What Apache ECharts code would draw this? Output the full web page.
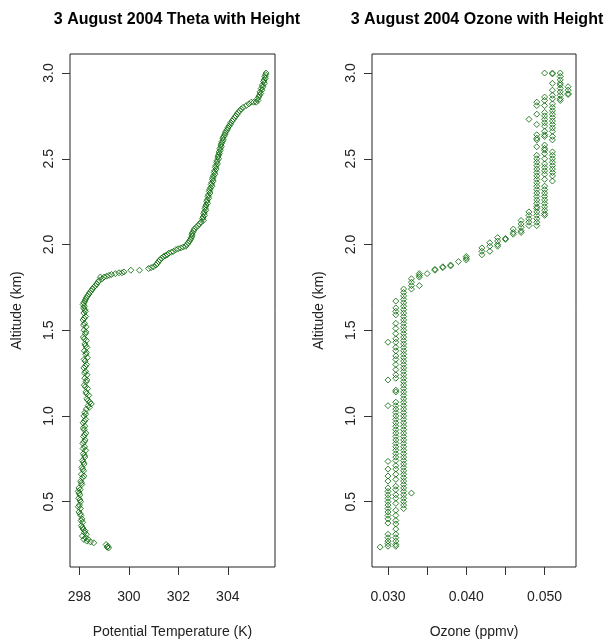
<!DOCTYPE html>
<html>
<head>
<meta charset="utf-8">
<script src="https://cdn.jsdelivr.net/npm/echarts@6/dist/echarts.min.js"></script>
<style>
html,body{margin:0;padding:0;background:#fff;}
#chart{width:609px;height:641px;}
</style>
</head>
<body>
<div id="chart"></div>
<script>
// ---- Data ----
const titles = ['3 August 2004 Theta with Height', '3 August 2004 Ozone with Height'];
const xNames = ['Potential Temperature (K)', 'Ozone (ppmv)'];
const yName = 'Altitude (km)';

const altTicks = [0.5, 1.0, 1.5, 2.0, 2.5, 3.0];
const thetaTicks = [298, 300, 302, 304];
const ozoneTicks = [0.030, 0.035, 0.040, 0.045, 0.050];
const ozoneLabels = [0.030, 0.040, 0.050];

// [potential temperature (K), altitude (km)]
const thetaObs = [
 [305.55,3.00],[305.53,2.99],[305.50,2.98],[305.52,2.97],[305.47,2.96],[305.45,2.95],[305.48,2.94],[305.40,2.93],
 [305.42,2.92],[305.35,2.91],[305.38,2.90],[305.30,2.89],[305.33,2.88],[305.28,2.87],[305.25,2.86],[305.20,2.85],
 [305.22,2.84],[305.15,2.83],[305.05,2.83],[304.95,2.83],[304.85,2.82],[304.75,2.81],[304.62,2.80],[304.55,2.79],
 [304.48,2.78],[304.42,2.77],[304.38,2.76],[304.32,2.75],[304.28,2.74],[304.22,2.73],[304.18,2.72],[304.12,2.71],
 [304.10,2.70],[304.05,2.69],[304.00,2.68],[303.98,2.67],[303.93,2.66],[303.90,2.65],[303.88,2.64],[303.84,2.63],
 [303.80,2.62],[303.82,2.61],[303.77,2.60],[303.75,2.59],[303.72,2.58],[303.74,2.57],[303.68,2.56],[303.70,2.55],
 [303.65,2.54],[303.66,2.53],[303.62,2.52],[303.60,2.51],[303.63,2.50],[303.57,2.49],[303.55,2.48],[303.58,2.47],
 [303.52,2.46],[303.50,2.45],[303.53,2.44],[303.47,2.43],[303.45,2.42],[303.48,2.41],[303.42,2.40],[303.40,2.39],
 [303.38,2.38],[303.41,2.37],[303.35,2.36],[303.33,2.35],[303.36,2.34],[303.30,2.33],[303.27,2.32],[303.25,2.31],
 [303.28,2.30],[303.22,2.29],[303.20,2.28],[303.23,2.27],[303.17,2.26],[303.15,2.25],[303.18,2.24],[303.12,2.23],
 [303.10,2.22],[303.08,2.21],[303.11,2.20],[303.05,2.19],[303.03,2.18],[303.06,2.17],[303.00,2.16],[302.98,2.15],
 [303.01,2.14],[302.92,2.13],[302.85,2.12],[302.80,2.11],[302.72,2.10],[302.65,2.09],[302.62,2.08],[302.58,2.07],
 [302.55,2.06],[302.56,2.05],[302.52,2.04],[302.50,2.03],[302.45,2.02],[302.40,2.01],[302.35,2.00],[302.30,1.99],
 [302.20,1.985],[302.10,1.98],[302.00,1.975],[301.90,1.97],[301.80,1.96],[301.72,1.955],[301.62,1.95],[301.55,1.94],
 [301.48,1.935],[301.40,1.93],[301.32,1.92],[301.25,1.91],[301.20,1.90],[301.15,1.89],[301.10,1.88],[301.00,1.87],
 [300.90,1.865],[300.80,1.86],[300.43,1.85],[300.08,1.85],[299.80,1.84],[299.72,1.835],[299.60,1.835],[299.45,1.83],
 [299.30,1.825],[299.20,1.82],[299.10,1.815],[299.00,1.81],[298.92,1.80],[298.85,1.81],[298.80,1.79],[298.75,1.78],
 [298.70,1.77],[298.65,1.76],[298.58,1.75],[298.52,1.74],[298.48,1.73],[298.42,1.72],[298.38,1.71],[298.33,1.70],
 [298.28,1.69],[298.25,1.68],[298.22,1.67],[298.18,1.66],[298.15,1.65],[298.20,1.64],[298.17,1.63],
 [298.22,1.62],[298.18,1.60],[298.25,1.58],[298.15,1.56],[298.21,1.54],[298.27,1.52],[298.19,1.50],[298.24,1.48],
 [298.16,1.46],[298.28,1.44],[298.22,1.42],[298.30,1.40],[298.20,1.38],[298.26,1.36],[298.32,1.34],[298.23,1.32],
 [298.29,1.30],[298.18,1.28],[298.25,1.26],[298.31,1.24],[298.22,1.22],[298.27,1.20],[298.20,1.18],[298.33,1.16],
 [298.26,1.14],[298.38,1.12],[298.30,1.10],[298.42,1.08],[298.48,1.07],[298.35,1.06],[298.28,1.04],[298.22,1.02],
 [298.18,1.00],[298.25,0.98],[298.15,0.96],[298.22,0.94],[298.19,0.92],[298.26,0.90],[298.17,0.88],[298.23,0.86],
 [298.14,0.84],[298.21,0.82],[298.25,0.80],[298.16,0.78],[298.22,0.76],[298.12,0.74],[298.19,0.72],[298.10,0.70],
 [298.17,0.68],[298.08,0.66],[298.13,0.64],[298.05,0.62],[298.10,0.60],[297.98,0.58],[298.03,0.57],[297.95,0.56],
 [298.02,0.54],[297.97,0.52],[298.05,0.50],[298.00,0.48],[298.04,0.46],[297.98,0.44],[298.06,0.42],[298.10,0.40],
 [298.13,0.38],[298.08,0.36],[298.15,0.34],[298.20,0.32],[298.12,0.30],[298.25,0.29],[298.18,0.28],[298.30,0.27],
 [298.58,0.26],[299.08,0.25],[299.15,0.24],[299.12,0.235],[299.18,0.23],
 [298.24,1.61],[298.19,1.57],[298.17,1.53],[298.26,1.49],[298.20,1.45],[298.25,1.41],[298.28,1.37],[298.19,1.33],
 [298.24,1.29],[298.21,1.25],[298.30,1.21],[298.24,1.17],[298.29,1.13],[298.35,1.09],[298.40,1.05],[298.25,1.01],
 [298.20,0.97],[298.16,0.93],[298.21,0.89],[298.19,0.85],[298.15,0.81],[298.20,0.77],[298.16,0.73],[298.13,0.69],
 [298.18,0.65],[298.08,0.61],[297.99,0.55],[298.02,0.51],[297.96,0.47],[298.03,0.43],[298.07,0.39],[298.12,0.35],
 [298.22,0.33],[298.28,0.31],[298.35,0.28],[298.45,0.265]
];

// ozone readings come in 0.001 ppmv steps; altitudes (km) observed at each level
const ozoneLevels = [0.029, 0.030, 0.031, 0.032, 0.033, 0.034, 0.035, 0.036, 0.037, 0.038, 0.039, 0.040,
                     0.042, 0.043, 0.044, 0.045, 0.046, 0.047, 0.048, 0.049, 0.050, 0.051, 0.052, 0.053];
const ozoneAltitudes = [
 [0.235],
 [1.43,1.21,1.06,0.735,0.69,0.65,0.62,0.58,0.56,0.54,0.52,0.50,0.48,0.46,0.44,0.42,0.40,0.375,0.31,0.29,0.27,0.255,0.24],
 [1.67,1.63,1.61,1.59,1.54,1.51,1.48,1.45,1.43,1.40,1.38,1.35,1.33,1.30,1.27,1.24,1.22,1.15,1.14,1.08,1.06,1.04,1.02,
  1.00,0.98,0.96,0.94,0.92,0.90,0.88,0.86,0.84,0.82,0.80,0.78,0.76,0.74,0.71,0.69,0.66,0.63,0.59,0.57,0.54,0.52,0.49,
  0.45,0.42,0.39,0.37,0.34,0.31,0.29,0.27,0.25,0.24],
 [1.74,1.72,1.70,1.68,1.66,1.64,1.62,1.60,1.58,1.56,1.54,1.52,1.50,1.48,1.46,1.44,1.42,1.40,1.38,1.36,1.34,1.32,1.30,
  1.28,1.26,1.24,1.22,1.20,1.18,1.16,1.14,1.12,1.10,1.08,1.06,1.04,1.02,1.00,0.98,0.96,0.94,0.92,0.90,0.88,0.86,0.84,
  0.82,0.80,0.78,0.76,0.74,0.72,0.70,0.68,0.66,0.64,0.62,0.60,0.58,0.56,0.54,0.52,0.50,0.48,0.46],
 [1.80,1.78,1.76,1.74,0.55],
 [1.83,1.82,1.81,1.76],
 [1.83],
 [1.855,1.85],
 [1.87,1.865],
 [1.88,1.875],
 [1.90],
 [1.93,1.92,1.91],
 [1.98,1.96,1.94],
 [2.01,1.99,1.96],
 [2.04,2.02,2.00,1.99],
 [2.035,2.03],
 [2.09,2.07,2.06],
 [2.14,2.12,2.10,2.08,2.07],
 [2.19,2.17,2.15,2.13,2.11,2.73],
 [2.83,2.81,2.76,2.70,2.64,2.62,2.61,2.57,2.52,2.50,2.48,2.46,2.44,2.42,2.40,2.38,2.36,2.34,2.32,2.30,2.28,2.26,2.24,
  2.22,2.21,2.19,2.17,2.15,2.13,2.11],
 [3.00,2.86,2.84,2.81,2.77,2.75,2.73,2.71,2.69,2.66,2.64,2.63,2.58,2.56,2.55,2.53,2.50,2.47,2.45,2.43,2.41,2.38,
  2.34,2.32,2.30,2.28,2.26,2.24,2.22,2.20,2.18,2.17],
 [3.00,2.995,2.94,2.90,2.87,2.85,2.82,2.80,2.78,2.76,2.74,2.72,2.70,2.68,2.66,2.63,2.61,2.54,2.52,2.50,2.48,2.46,2.44,
  2.42,2.40,2.37],
 [3.00,2.98,2.96,2.94,2.93,2.91,2.89,2.87,2.85,2.84],
 [2.92,2.90,2.88,2.875]
];

// ---- Build ----
const ozoneObs = [];
ozoneLevels.forEach((lv, i) => ozoneAltitudes[i].forEach(a => ozoneObs.push([lv, a])));

const FONT = '"Liberation Sans", Arial, sans-serif';
const TXT = '#222';
const GREEN = '#006400';

const chart = echarts.init(document.getElementById('chart'), null, {renderer: 'canvas'});

function yAxis(gridIndex) {
  return {
    type: 'value', gridIndex, min: 0.119, max: 3.111,
    name: yName, nameLocation: 'middle', nameGap: 46,
    nameTextStyle: {fontFamily: FONT, fontSize: 14, color: TXT},
    axisLine: {show: false},
    axisTick: {show: true, inside: false, length: 8, customValues: altTicks, lineStyle: {color: '#333'}},
    axisLabel: {show: true, rotate: 90, margin: 14, customValues: altTicks, fontFamily: FONT, fontSize: 14, color: TXT,
                formatter: v => v.toFixed(1)},
    splitLine: {show: false}
  };
}

const option = {
  backgroundColor: '#fff',
  animation: false,
  title: [
    {text: titles[0], left: 172, top: 7, textAlign: 'center',
     textStyle: {fontFamily: FONT, fontSize: 16, fontWeight: 'bold', color: '#000'}},
    {text: titles[1], left: 472, top: 7, textAlign: 'center',
     textStyle: {fontFamily: FONT, fontSize: 16, fontWeight: 'bold', color: '#000'}}
  ],
  grid: [
    {left: 70, top: 54, width: 205, height: 513, outerBoundsMode: 'none', containLabel: false,
     show: true, borderColor: '#222', borderWidth: 1, backgroundColor: 'transparent'},
    {left: 372, top: 54, width: 204, height: 513, outerBoundsMode: 'none', containLabel: false,
     show: true, borderColor: '#222', borderWidth: 1, backgroundColor: 'transparent'}
  ],
  xAxis: [
    {type: 'value', gridIndex: 0, min: 297.62, max: 305.91,
     name: xNames[0], nameLocation: 'middle', nameGap: 58,
     nameTextStyle: {fontFamily: FONT, fontSize: 14, color: TXT},
     axisLine: {show: false},
     axisTick: {show: true, inside: false, length: 8, customValues: thetaTicks, lineStyle: {color: '#333'}},
     axisLabel: {show: true, margin: 23, customValues: thetaTicks, fontFamily: FONT, fontSize: 14, color: TXT},
     splitLine: {show: false}},
    {type: 'value', gridIndex: 1, min: 0.02796, max: 0.05401,
     name: xNames[1], nameLocation: 'middle', nameGap: 58,
     nameTextStyle: {fontFamily: FONT, fontSize: 14, color: TXT},
     axisLine: {show: false},
     axisTick: {show: true, inside: false, length: 8, customValues: ozoneTicks, lineStyle: {color: '#333'}},
     axisLabel: {show: true, margin: 23, customValues: ozoneLabels, fontFamily: FONT, fontSize: 14, color: TXT,
                 formatter: v => v.toFixed(3)},
     splitLine: {show: false}}
  ],
  yAxis: [yAxis(0), yAxis(1)],
  series: [
    {type: 'scatter', xAxisIndex: 0, yAxisIndex: 0, data: thetaObs, symbol: 'diamond', symbolSize: 6,
     itemStyle: {color: 'rgba(0,0,0,0)', borderColor: GREEN, borderWidth: 1}, emphasis: {disabled: true}},
    {type: 'scatter', xAxisIndex: 1, yAxisIndex: 1, data: ozoneObs, symbol: 'diamond', symbolSize: 6,
     itemStyle: {color: 'rgba(0,0,0,0)', borderColor: GREEN, borderWidth: 1}, emphasis: {disabled: true}}
  ]
};
chart.setOption(option);
</script>
</body>
</html>
